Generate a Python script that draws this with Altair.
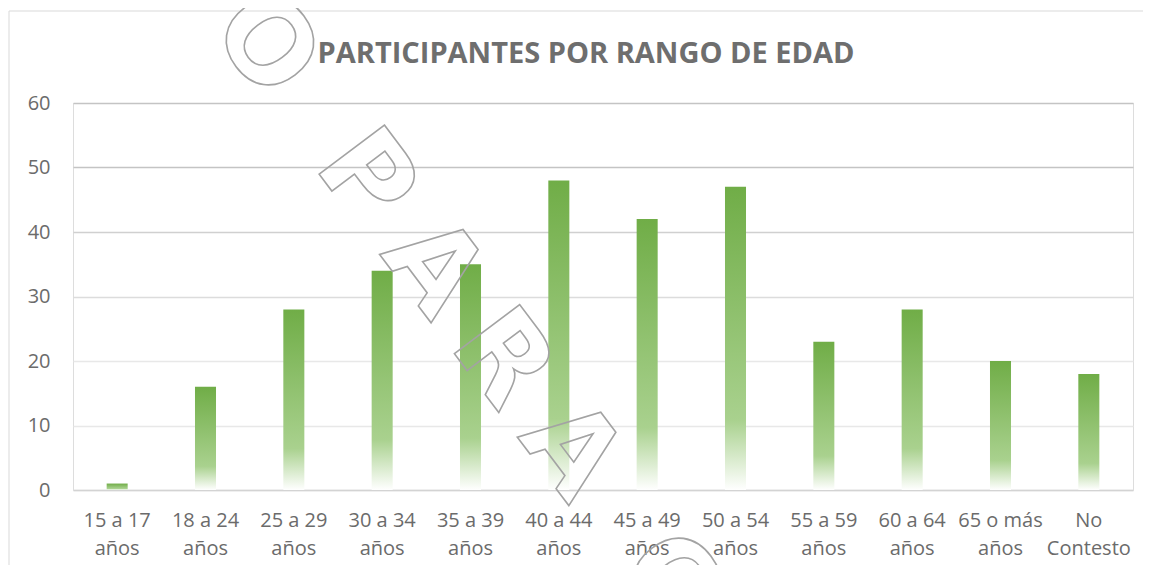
import altair as alt
import pandas as pd

categories = ["15 a 17\naños", "18 a 24\naños", "25 a 29\naños", "30 a 34\naños",
              "35 a 39\naños", "40 a 44\naños", "45 a 49\naños", "50 a 54\naños",
              "55 a 59\naños", "60 a 64\naños", "65 o más\naños", "No\nContesto"]
values = [1, 16, 28, 34, 35, 48, 42, 47, 23, 28, 20, 18]
y_ticks = [0, 10, 20, 30, 40, 50, 60]
title_text = "PARTICIPANTES POR RANGO DE EDAD"
watermark_text = "O\u00a0\u00a0P\u2005A\u2005R\u2005A\u00a0\u00a0O"

df = pd.DataFrame({"cat": categories, "val": values})
one = pd.DataFrame({"k": [0]})

grad = alt.Gradient(
    gradient="linear", x1=0, y1=0, x2=0, y2=1,
    stops=[alt.GradientStop(color="#70AD47", offset=0),
           alt.GradientStop(color="#A9D18E", offset=0.77),
           alt.GradientStop(color="#FFFFFF", offset=1)])

grid_color = {"condition": [{"test": "datum.value >= 50", "value": "#C4C4C4"},
                            {"test": "datum.value >= 40", "value": "#D0D0D0"},
                            {"test": "datum.value >= 30", "value": "#DCDCDC"}],
              "value": "#E8E8E8"}

border_top = alt.Chart(one).mark_rule(stroke="#D9D9D9", strokeWidth=1).encode(
    x=alt.value(-64), x2=alt.value(1090), y=alt.value(-92))
border_left = alt.Chart(one).mark_rule(stroke="#D9D9D9", strokeWidth=1).encode(
    x=alt.value(-64), y=alt.value(-92), y2=alt.value(500))

bars = alt.Chart(df).mark_bar(color=grad).encode(
    x=alt.X("cat:N", sort=categories, title=None,
            scale=alt.Scale(paddingInner=0.762, paddingOuter=0.381),
            axis=alt.Axis(labelAngle=0, labelExpr="split(datum.label, '\\n')",
                          labelFont="Open Sans", labelFontSize=20, labelColor="#6B6B6B",
                          labelLineHeight=28, labelPadding=20, ticks=False,
                          domainColor="#D3D3D3", domainWidth=1.5)),
    y=alt.Y("val:Q", title=None,
            scale=alt.Scale(domain=[0, 60], nice=False),
            axis=alt.Axis(values=y_ticks, domain=False, ticks=False,
                          labelFont="Open Sans", labelFontSize=20, labelColor="#6B6B6B",
                          labelPadding=23, gridColor=grid_color, gridWidth=1.3)))

title = alt.Chart(one).mark_text(
    text=title_text, font="Open Sans", fontSize=29, fontWeight="bold",
    color="#6E6E6E", align="center", baseline="alphabetic").encode(
    x=alt.value(513), y=alt.value(-40))

watermark = alt.Chart(one).mark_text(
    text=watermark_text, font="DejaVu Sans", fontWeight="bold", fontSize=112, angle=53,
    fillOpacity=0, stroke="#A3A3A3", strokeWidth=1.6,
    align="center", baseline="alphabetic").encode(
    x=alt.value(368), y=alt.value(233))

chart = alt.layer(border_top, border_left, bars, watermark, title).properties(
    width=1060, height=387,
    autosize=alt.AutoSizeParams(type="none"),
    padding={"left": 65, "top": 95, "right": 10, "bottom": 75},
).configure_view(stroke=None).configure(background="white")

chart.save("out.html", embed_options={"renderer": "svg", "actions": False})
